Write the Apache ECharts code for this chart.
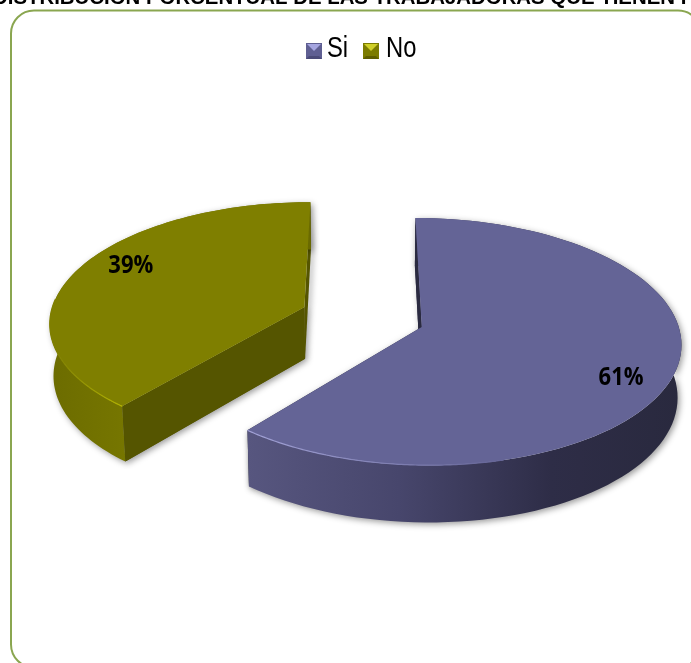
<!DOCTYPE html>
<html>
<head>
<meta charset="utf-8">
<style>html,body{margin:0;padding:0;background:#fff}#chart{width:691px;height:663px;overflow:hidden}</style>
<script src="https://cdn.jsdelivr.net/npm/echarts@6/dist/echarts.min.js"></script>
</head>
<body>
<div id="chart"></div>
<script>
// Shares of the pie, in percent
const categories = ['Si', 'No'];
const shares = [61, 39];
const heading = 'DISTRIBUCIÓN PORCENTUAL DE LAS TRABAJADORAS QUE TIENEN HIJOS';

// Colours of each slice
const palette = {
  Si: { top: '#646496', rim: ['#57567f', '#47466c', '#2e2d47', '#29293e'], cut: '#2a2a40', glint: '#a3a3d8',
        mark: ['#5f5f92', '#a5a5e0', '#4b4b78', '#6c6ca0'] },
  No: { top: '#7f7f00', rim: ['#6c6c00', '#787800', '#6e6e00', '#6a6a00'], cut: '#555500', glint: '#b3b300',
        mark: ['#7c7c00', '#d0d028', '#5e5e00', '#8d8d00'] }
};

// Perspective camera for the tilted, exploded disc
const cam = { ox: 362.5, oy: 317, rx: 254.5, ry: 119.5, depth: 52.5, k: 0.117, c: 0.012, explode: 0.245 };

function project(u, v, z) {
  const w = 1 - cam.k * v + cam.c * z;
  return [cam.ox + cam.rx * u / w, cam.oy + (cam.ry * v + cam.depth * z) / w];
}

function legendIcon(m) {
  const svg = "<svg xmlns='http://www.w3.org/2000/svg' width='16' height='16'>" +
    "<rect width='16' height='16' fill='" + m[0] + "'/>" +
    "<path d='M1 1H15L8 8Z' fill='" + m[1] + "'/>" +
    "<path d='M0 16H16L13 13H3Z' fill='" + m[2] + "'/></svg>";
  return 'image://data:image/svg+xml,' + encodeURIComponent(svg);
}

function renderSlice(params, api) {
  const name = categories[params.seriesIndex];
  const colors = palette[name];
  const total = shares.reduce((a, b) => a + b, 0);
  const before = shares.slice(0, params.seriesIndex).reduce((a, b) => a + b, 0);
  const value = api.value(0);
  const t0 = before / total * 2 * Math.PI;
  const t1 = (before + value) / total * 2 * Math.PI;
  const mid = (t0 + t1) / 2;
  const ax = Math.sin(mid) * cam.explode;
  const ay = -Math.cos(mid) * cam.explode;
  const rimAt = (t, z) => project(ax + Math.sin(t), ay - Math.cos(t), z);
  const arc = (a, b, z) => {
    const pts = [];
    const n = 96;
    for (let i = 0; i <= n; i++) pts.push(rimAt(a + (b - a) * i / n, z));
    return pts;
  };
  const apex = z => project(ax, ay, z);
  const poly = (points, style) => ({ type: 'polygon', shape: { points }, style });
  const topArc = arc(t0, t1, 0);
  const xs = topArc.map(p => p[0]);
  const xMin = Math.min(...xs), xMax = Math.max(...xs);
  const shadow = { shadowBlur: 6, shadowOffsetX: 2, shadowOffsetY: 2, shadowColor: 'rgba(0,0,0,0.4)' };

  const rimFill = new echarts.graphic.LinearGradient(xMin, 0, xMax, 0, [
    { offset: 0, color: colors.rim[0] },
    { offset: 0.35, color: colors.rim[1] },
    { offset: 0.7, color: colors.rim[2] },
    { offset: 1, color: colors.rim[3] }
  ], true);

  const cutFace = t => [apex(0), rimAt(t, 0), rimAt(t, 1), apex(1)];
  // The edge where the slice's front rim starts catches the bevel highlight
  const glintStart = name === 'Si' ? t1 : t0;
  const glintEnd = name === 'Si' ? t1 - 0.95 : t0 + 0.95;
  const children = [
    poly(cutFace(t0), Object.assign({ fill: colors.cut }, shadow)),
    poly(cutFace(t1), Object.assign({ fill: colors.cut }, shadow)),
    poly(topArc.concat(arc(t1, t0, 1)), Object.assign({ fill: rimFill }, shadow)),
    poly(cutFace(t0), { fill: colors.cut }),
    poly([apex(0)].concat(topArc), { fill: colors.top }),
    {
      type: 'polyline',
      shape: { points: arc(glintStart, glintEnd, 0) },
      style: {
        fill: 'none', lineWidth: 1.2,
        stroke: new echarts.graphic.LinearGradient(
          rimAt(glintStart, 0)[0], 0, rimAt(glintEnd, 0)[0], 0,
          [{ offset: 0, color: colors.glint }, { offset: 1, color: colors.top }], true)
      }
    }
  ];

  // Percentage printed on the top surface
  const labelAngle = mid + 8 * Math.PI / 180;
  const labelAt = project(ax + 0.825 * Math.sin(labelAngle), ay - 0.825 * Math.cos(labelAngle), 0);
  children.push({
    type: 'text', x: labelAt[0], y: labelAt[1] + 2, scaleX: 0.88,
    style: {
      text: value + '%', fill: '#000', align: 'center', verticalAlign: 'middle',
      font: 'bold 25px "Open Sans", sans-serif'
    }
  });
  return { type: 'group', children };
}

// Narrowed legend captions; the legend component itself places the swatches
const captions = categories.map((name, i) => ({
  type: 'text', silent: true, x: [327, 386][i], y: 49, scaleX: 0.82,
  style: { text: name, fill: '#000', verticalAlign: 'middle', font: '29px "Liberation Sans", sans-serif' }
}));

const chart = echarts.init(document.getElementById('chart'), null, { renderer: 'canvas' });
chart.setOption({
  animation: false,
  backgroundColor: '#fff',
  title: {
    text: heading, left: -12, top: -17,
    textStyle: { fontFamily: 'Liberation Sans', fontWeight: 'bold', fontSize: 20.4, color: '#000' }
  },
  graphic: [{
    type: 'rect', z: -1, silent: true,
    shape: { x: 11, y: 10.5, width: 690, height: 657, r: 23 },
    style: { fill: '#fff', stroke: '#8aa650', lineWidth: 2 }
  }].concat(captions),
  legend: {
    top: 43, left: 306, itemGap: 41, itemWidth: 16, itemHeight: 16, padding: 0,
    formatter: () => '',
    data: categories.map(name => ({ name, icon: legendIcon(palette[name].mark) }))
  },
  series: categories.map((name, i) => ({
    type: 'custom', name, coordinateSystem: 'none', silent: true,
    z: i === 0 ? 3 : 2,
    data: [[shares[i]]],
    renderItem: renderSlice
  }))
});
</script>
</body>
</html>
